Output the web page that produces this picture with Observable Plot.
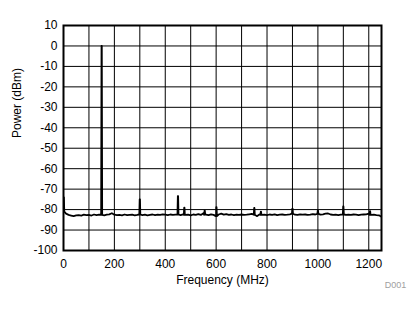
<!DOCTYPE html>
<html><head><meta charset="utf-8">
<script src="https://cdn.jsdelivr.net/npm/d3@7"></script>
<script src="https://cdn.jsdelivr.net/npm/@observablehq/plot@0.6"></script>
<style>body{margin:0;background:#fff} #chart{position:relative;width:419px;height:312px}</style>
</head><body><div id="chart"></div>
<script>
// Noise floor of the spectrum, sampled every 10 MHz from 0 to 1250 MHz (dBm)
const floorStart = 0;
const floorStep = 10;
const floorPower = [
  -81.0, -82.0, -82.6, -82.9, -83.2, -82.8, -82.7, -82.9, -82.5, -82.7,
  -82.6, -82.9, -82.4, -82.7, -82.5, -82.6, -82.8, -82.5, -82.3, -81.8,
  -82.5, -82.7, -82.6, -82.8, -82.4, -82.7, -82.6, -82.5, -82.8, -82.6,
  -82.4, -82.7, -82.5, -82.8, -82.6, -82.4, -82.7, -82.5, -82.6, -82.3,
  -82.5, -82.7, -82.4, -82.6, -82.5, -82.4, -82.7, -82.3, -82.6, -82.5,
  -82.8, -82.4, -82.6, -82.2, -82.6, -81.8, -82.5, -82.7, -82.3, -82.6,
  -83.2, -82.4, -82.0, -82.5, -82.2, -82.6, -82.4, -82.7, -82.5, -82.6,
  -82.4, -82.6, -82.5, -82.3, -82.1, -82.5, -83.2, -82.4, -82.6, -82.5,
  -82.7, -82.4, -82.6, -82.3, -82.7, -82.5, -82.4, -82.6, -82.5, -82.3,
  -82.0, -82.5, -82.6, -82.3, -82.5, -82.4, -82.6, -82.5, -82.2, -82.4,
  -82.1, -82.5, -82.3, -82.0, -81.9, -82.4, -82.6, -82.5, -82.7, -82.5,
  -82.4, -82.6, -82.5, -82.6, -82.4, -82.5, -82.7, -82.5, -82.4, -82.3,
  -82.0, -82.6, -82.5, -82.7, -82.8, -83.5
];
// Tones and spurs (MHz, dBm)
const spikeFreq  = [1, 150, 300, 450, 475, 555, 601, 750, 776, 900, 1000, 1100, 1205];
const spikePower = [-74, 0, -75, -73.4, -79, -80.5, -78.8, -79.2, -81, -79.5, -80.5, -78.5, -80.8];

const xTicks = [0, 200, 400, 600, 800, 1000, 1200];
const xGrid = [100, 200, 300, 400, 500, 600, 700, 800, 900, 1000, 1100, 1200];
const yTicks = [-100, -90, -80, -70, -60, -50, -40, -30, -20, -10, 0, 10];

const trace = [];
floorPower.forEach((p, i) => trace.push({f: floorStart + i * floorStep, p, o: 0}));
spikeFreq.forEach((f, i) => {
  const base = floorPower[Math.min(floorPower.length - 1, Math.round(f / floorStep))];
  trace.push({f: f - 2, p: base, o: 1}, {f: f - 0.5, p: spikePower[i], o: 2}, {f: f + 0.5, p: spikePower[i], o: 3}, {f: f + 2, p: base, o: 4});
});
trace.sort((a, b) => a.f - b.f || a.o - b.o);

const chart = Plot.plot({
  width: 419, height: 312,
  marginLeft: 63, marginRight: 38, marginTop: 25, marginBottom: 62,
  style: {fontFamily: "'Liberation Sans', Arial, sans-serif", fontSize: "12px", color: "#000", background: "#fff"},
  x: {domain: [0, 1250], ticks: xTicks, tickSize: 0, tickPadding: 9, label: null, tickFormat: d => String(d)},
  y: {domain: [-100, 10], ticks: yTicks, tickSize: 0, tickPadding: 6, label: null, tickFormat: d => String(d)},
  marks: [
    Plot.ruleX(xGrid, {stroke: "#000", strokeWidth: 1}),
    Plot.ruleY(yTicks, {stroke: "#000", strokeWidth: 1}),
    Plot.line(trace, {x: "f", y: "p", stroke: "#000", strokeWidth: 1.8, clip: true}),
    Plot.frame({stroke: "#000", strokeWidth: 2}),
    Plot.text(["Frequency (MHz)"], {frameAnchor: "bottom", dy: 30, lineAnchor: "middle", fontSize: 12, fill: "#000"}),
    Plot.text(["Power (dBm)"], {frameAnchor: "left", dx: -46, rotate: -90, lineAnchor: "middle", fontSize: 12, fill: "#000"}),
    Plot.text(["D001"], {frameAnchor: "bottom-right", dx: 14, dy: 35, textAnchor: "middle", lineAnchor: "middle", fontSize: 9, fill: "#a0a0a0"})
  ]
});
document.getElementById("chart").appendChild(chart);
</script>
</body></html>
